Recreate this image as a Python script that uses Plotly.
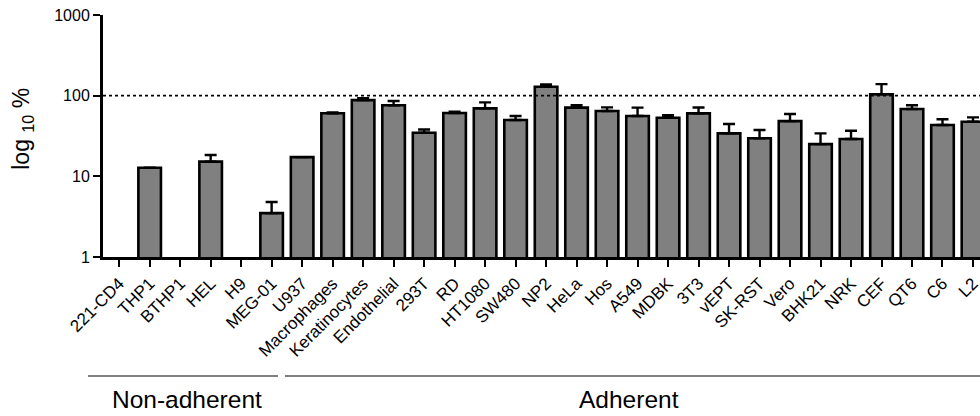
import plotly.graph_objects as go

cell_lines = ["221-CD4", "THP1", "BTHP1", "HEL", "H9", "MEG-01", "U937", "Macrophages",
              "Keratinocytes", "Endothelial", "293T", "RD", "HT1080", "SW480", "NP2", "HeLa",
              "Hos", "A549", "MDBK", "3T3", "vEPT", "SK-RST", "Vero", "BHK21", "NRK", "CEF",
              "QT6", "C6", "L2"]
mean_pct = [None, 12.8, None, 15.2, None, 3.5, 17.3, 60.5, 88, 76, 34.7, 61, 69.5, 50, 129, 71,
            64.5, 56, 53.2, 60.3, 34.1, 29.6, 48.4, 25.1, 29, 104, 68.2, 43.2, 47.5]
sem_pct = [0, 0, 0, 3.2, 0, 1.3, 0, 1.5, 5, 10, 3.3, 2.5, 13, 6, 9, 5,
           7, 15, 4, 11, 10.4, 7.9, 10.8, 9, 7.7, 35, 8, 7.8, 6.3]
y_ticks = [1, 10, 100, 1000]
y_tick_labels = ["1", "10", "100", "1000"]
reference_level = 100
groups = ["Non-adherent", "Adherent"]

FONT = "Liberation Sans, Arial, Helvetica, sans-serif"

fig = go.Figure()
fig.add_trace(go.Bar(
    x=cell_lines,
    y=mean_pct,
    width=0.74,
    marker=dict(color="#808080", line=dict(color="black", width=2.6)),
    error_y=dict(type="data", symmetric=False, array=sem_pct,
                 arrayminus=[0] * len(sem_pct), color="black", thickness=2.4, width=6),
    showlegend=False,
    hoverinfo="skip",
))

fig.add_shape(type="line", xref="paper", x0=0, x1=1, yref="y",
              y0=reference_level, y1=reference_level,
              line=dict(color="black", width=1.8, dash="3px,3px"), layer="above")

# group bracket lines under the category labels
fig.add_shape(type="line", xref="paper", yref="paper", x0=-0.0171, x1=0.1995,
              y0=-0.492, y1=-0.492, line=dict(color="#555555", width=1.6))
fig.add_shape(type="line", xref="paper", yref="paper", x0=0.2075, x1=1.0,
              y0=-0.492, y1=-0.492, line=dict(color="#555555", width=1.6))
fig.add_annotation(text=groups[0], xref="paper", yref="paper", x=0.0958, y=-0.587,
                   showarrow=False, font=dict(family=FONT, size=24.5, color="black"),
                   xanchor="center", yanchor="middle")
fig.add_annotation(text=groups[1], xref="paper", yref="paper", x=0.600, y=-0.587,
                   showarrow=False, font=dict(family=FONT, size=24.5, color="black"),
                   xanchor="center", yanchor="middle")
fig.add_annotation(text="log <sub>10</sub> %", xref="paper", yref="paper", x=-0.0912, y=0.53,
                   textangle=-90, showarrow=False,
                   font=dict(family=FONT, size=23, color="black"),
                   xanchor="center", yanchor="middle")

fig.update_layout(
    width=980, height=416,
    margin=dict(l=103, r=0, t=15, b=159, autoexpand=False),
    plot_bgcolor="white", paper_bgcolor="white",
    xaxis=dict(
        type="category", range=[-0.53, 28.23], automargin=False,
        showline=True, linecolor="black", linewidth=3,
        ticks="outside", ticklen=7, tickwidth=2.4, tickcolor="black",
        tickangle=-45, showgrid=False, zeroline=False, ticklabeloverflow="allow",
        tickfont=dict(family=FONT, size=17, color="black"),
    ),
    yaxis=dict(
        type="log", range=[0, 3], automargin=False,
        tickvals=y_ticks, ticktext=y_tick_labels,
        showline=True, linecolor="black", linewidth=3,
        ticks="outside", ticklen=7, tickwidth=2.4, tickcolor="black",
        showgrid=False, zeroline=False,
        tickfont=dict(family=FONT, size=16, color="black"),
    ),
)

fig.write_html("out.html", config={"displayModeBar": False},
               post_script="document.body.style.margin='0px';document.body.style.overflow='hidden';")
